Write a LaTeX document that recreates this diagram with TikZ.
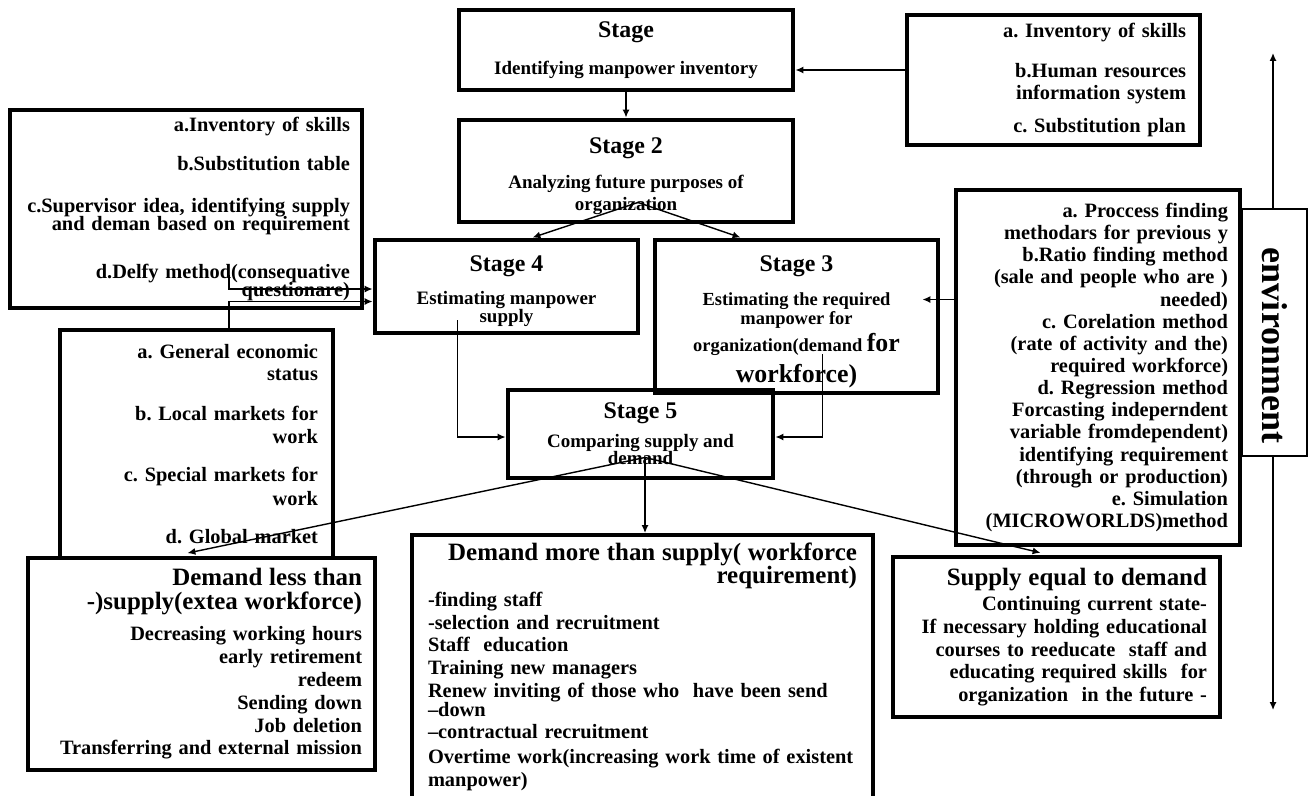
\documentclass[tikz,border=0pt]{standalone}
\usepackage{fontspec}
\setmainfont{Liberation Serif}
\usetikzlibrary{arrows.meta,calc}
\newdimen\pxu \pxu=0.02cm
\lineskiplimit=-50pt
\frenchspacing
\newcommand{\hdf}{\fontsize{13.6}{15}\selectfont}
\newcommand{\stf}{\fontsize{10.8}{12.4}\selectfont}
\newcommand{\lgf}{\fontsize{14.7}{16}\selectfont}
\newcommand{\bdf}{\fontsize{11.6}{12.6}\selectfont}
\newcommand{\bgf}{\fontsize{14.2}{15}\selectfont}
\tikzset{
  stagebox/.style={draw, line width=2.8pt, align=center, inner sep=0pt, font=\stf\bfseries},
  listbox/.style={draw, line width=2.2pt, align=right, inner ysep=0pt, font=\bdf\bfseries},
  arr/.style={-{Latex[length=4.5pt,width=4pt]}, line width=0.8pt}
}
\begin{document}
\begin{tikzpicture}[x=0.02cm, y=-0.02cm]
  \useasboundingbox (0,0) rectangle (1311,795);
  \node[stagebox, minimum width=334\pxu, minimum height=80\pxu] (s1) at (626,50)
    {{\hdf Stage}\\[9pt]Identifying\ manpower inventory};
  \node[stagebox, minimum width=334\pxu, minimum height=102\pxu] (s2) at (626,171)
    {\rule{0pt}{15pt}{\hdf Stage 2}\\[7.4pt]Analyzing future purposes of\\organization};
  \node[stagebox, minimum width=263\pxu, minimum height=93\pxu] (s4) at (506.5,286.5)
    {\rule{0pt}{14pt}{\hdf Stage 4}\\[6.3pt]Estimating manpower\\[-2pt]supply};
  \node[stagebox, minimum width=283\pxu, minimum height=153\pxu,
        font=\fontsize{10.5}{12}\selectfont\bfseries] (s3) at (796.5,316.5)
    {\rule{0pt}{15pt}{\hdf Stage 3}\\[7.3pt]Estimating the required\\[-0.7pt]manpower for\\[3.3pt]organization(demand {\lgf for}\\[5.6pt]{\lgf workforce)}};
  \node[stagebox, minimum width=265\pxu, minimum height=88\pxu] (s5) at (640.5,434)
    {{\hdf Stage 5}\\[4pt]Comparing supply and\\[-2.8pt]demand};
  \node[listbox, line width=1.9pt, minimum width=293\pxu, minimum height=130\pxu,
        text width=265\pxu, inner xsep=14\pxu] (inv) at (1053.5,80)
    {a. Inventory of skills\\[10.1pt]b.Human resources\\information system\\[6.1pt]c. Substitution plan};
  \node[listbox, minimum width=352\pxu, minimum height=198\pxu,
        text width=328\pxu, inner xsep=12\pxu] (tl) at (186,209)
    {a.Inventory of skills\\[9.5pt]b.Substitution table\\[11.2pt]c.Supervisor idea, identifying supply\\[-2.4pt]and deman based on requirement\\[15pt]d.Delfy method(consequative\\[-2.4pt]questionare)};
  \node[listbox, line width=1.9pt, minimum width=273\pxu, minimum height=228\pxu,
        text width=243\pxu, inner xsep=15\pxu] (lm) at (196.5,444)
    {a. General economic\\status\\[10.1pt]b. Local markets for\\[0.4pt]work\\[8.9pt]c. Special markets for\\[1pt]work\\[8.9pt]d. Global market};
  \node[listbox, minimum width=284\pxu, minimum height=355\pxu,
        text width=260\pxu, inner xsep=12\pxu] (rm) at (1098,367.5)
    {a. Proccess finding\\methodars for previous y\\b.Ratio finding method\\(sale and people who are )\\needed)\\c. Corelation method\\(rate of activity and the)\\required workforce)\\d. Regression method\\Forcasting indeperndent\\variable fromdependent)\\identifying requirement\\(through or production)\\e. Simulation\\(MICROWORLDS)method};
  \node[listbox, minimum width=347\pxu, minimum height=212\pxu,
        text width=321\pxu, inner xsep=13\pxu, font=\fontsize{11.6}{13}\selectfont\bfseries] (bl) at (201.5,664)
    {{\bgf Demand less than}\\[0.6pt]{\bgf -)supply(extea workforce)}\\[4.6pt]Decreasing working hours\\early retirement\\redeem\\Sending down\\Job deletion\\Transferring and external mission};
  \node[listbox, align=left, anchor=north, minimum width=461\pxu, text width=429\pxu,
        inner xsep=16\pxu, inner ysep=8\pxu, font=\fontsize{11.6}{13}\selectfont\bfseries] (bm) at (642.5,533)
    {\makebox[\linewidth][r]{\bgf Demand more than supply( workforce}\\\makebox[\linewidth][r]{\bgf requirement)}\\-finding staff\\-selection and recruitment\\Staff\ \ education\\Training new managers\\Renew inviting of those who\ \ have been send\\[-2.5pt]–down\\–contractual recruitment\\[1pt]Overtime work(increasing work time of existent\\manpower)};
  \node[listbox, line width=2.5pt, minimum width=327\pxu, minimum height=160\pxu,
        text width=301\pxu, inner xsep=13\pxu, font=\fontsize{11.6}{13}\selectfont\bfseries] (br) at (1056.5,637)
    {{\bgf Supply equal to demand}\\[1.5pt]Continuing current state-\\If necessary holding educational\\courses to reeducate\ \ staff and\\educating required skills\ \ for\\organization\ \ in the future -};
  \coordinate (s2o) at ($(s2.south)+(12,-22)$);
  \coordinate (tlo) at ($(tl.south)+(43,-35)$);
  \coordinate (s4o) at ($(s4.south)+(-49,-15)$);
  \coordinate (s3o) at ($(s3.south)+(26,-41)$);
  \coordinate (s3i) at ($(s3.east)+(-18,-17)$);
  \coordinate (s5o) at ($(s5.south)+(4.5,-23)$);
  \coordinate (envt) at (1273,53);
  \coordinate (envb) at (1273,710);
  \draw[arr] ($(inv.west)+(0,-10)$) -- ($(s1.east)+(0,20)$);
  \draw[arr] (s1.south) -- (s2.north);
  \draw[arr] (s2o) -- ($(s4.north)+(26,0)$);
  \draw[arr] (s2o) -- ($(s3.north)+(-56,0)$);
  \draw[arr] (tlo) |- ($(s4.west)+(0,2.5)$);
  \draw[arr] (lm.north -| tlo) |- ($(s4.west)+(0,15)$);
  \draw[arr] (s4o) |- ($(s5.west)+(0,3)$);
  \draw[arr] (s3o) |- ($(s5.east)+(0,3)$);
  \draw[arr] (rm.west |- s3i) -- (s3i);
  \draw[arr] (s5o) -- ($(bl.north)+(-14,-3)$);
  \draw[arr] (s5o) -- (s5o |- bm.north);
  \draw[arr] (s5o) -- ($(br.north)+(-16,-2)$);
  \draw[arr, {Latex[length=4.5pt,width=4pt]}-{Latex[length=4.5pt,width=4pt]}] (envt) -- (envb);
  \node[draw, fill=white, line width=0.9pt, rotate=-90, minimum width=247\pxu, minimum height=65\pxu,
        inner sep=0pt, font=\fontsize{20.5}{22}\selectfont\bfseries] (env) at (1274.5,332.5) {\hspace*{15pt}environment};
\end{tikzpicture}
\end{document}
